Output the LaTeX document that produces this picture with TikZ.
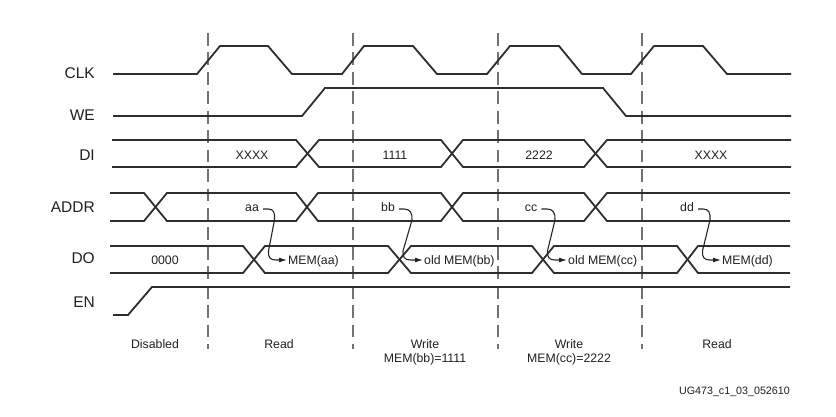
\documentclass[tikz,border=0pt]{standalone}
\usepackage{fontspec}
\setmainfont{Liberation Sans}
\usetikzlibrary{arrows.meta,calc}
\begin{document}
\begin{tikzpicture}[x=1pt,y=-1pt,
  sig/.style={line width=1.8pt, draw=black!82, line join=miter},
  gridline/.style={line width=1.7pt, draw=black!55, dash pattern=on 12.8pt off 6.64pt},
  lbl/.style={anchor=east, font=\fontsize{15.5}{18}\selectfont, text=black!88, inner sep=0pt, text height=11.1pt, text depth=0pt},
  val/.style={font=\fontsize{12.3}{14}\selectfont, text=black!88, inner sep=0pt, text height=8.8pt, text depth=0pt},
  capt/.style={anchor=north, font=\fontsize{12.3}{14}\selectfont, text=black!88, align=center, inner sep=0pt},
  ptr/.style={line width=1.1pt, draw=black!85, -{Latex[length=8pt,width=5pt]}, shorten >=1pt},
]
\useasboundingbox (0,0) rectangle (836,417);

% phase separators
\foreach \x in {208,353,498,642}
  \draw[gridline] (\x,33) -- (\x,349);

% signal names
\node[lbl] (lclk) at (95,73) {CLK};
\node[lbl] (lwe) at (95,115) {WE};
\node[lbl] (ldi) at (95,155) {DI};
\node[lbl] (laddr) at (95,207) {ADDR};
\node[lbl] (ldo) at (95,258) {DO};
\node[lbl] (len) at (95,302) {EN};

% CLK
\draw[sig] (113,74) -- (197,74) -- (220,46) -- (268,46) -- (292,74) -- (342,74) -- (364,46)
  -- (413,46) -- (437,74) -- (487,74) -- (510,46) -- (559,46) -- (582,74) -- (631,74)
  -- (654,46) -- (703,46) -- (727,74) -- (791,74);

% WE
\draw[sig] (113,116) -- (302,116) -- (325,88) -- (603,88) -- (626,116) -- (791,116);

% DI bus
\draw[sig] (112,140) -- (296,140) -- (319,167) -- (441,167) -- (463,140) -- (584,140) -- (607,167) -- (791,167);
\draw[sig] (112,167) -- (296,167) -- (319,140) -- (441,140) -- (463,167) -- (584,167) -- (607,140) -- (791,140);

% ADDR bus
\draw[sig] (110,193) -- (144,193) -- (167,221) -- (296,221) -- (318,193) -- (441,193) -- (463,221) -- (584,221) -- (607,193) -- (790,193);
\draw[sig] (110,221) -- (144,221) -- (167,193) -- (296,193) -- (318,221) -- (441,221) -- (463,193) -- (584,193) -- (607,221) -- (790,221);

% DO bus
\draw[sig] (110,246) -- (243,246) -- (265,273) -- (388,273) -- (411,246) -- (532,246) -- (554,273) -- (677,273) -- (698,246) -- (790,246);
\draw[sig] (110,273) -- (243,273) -- (265,246) -- (388,246) -- (411,273) -- (532,273) -- (554,246) -- (677,246) -- (698,273) -- (790,273);

% EN
\draw[sig] (113,315) -- (128,315) -- (152,287) -- (790,287);

% DI values
\node[val] (di1) at (252,155) {XXXX};
\node[val] (di2) at (395,155) {1111};
\node[val] (di3) at (539,155) {2222};
\node[val] (di4) at (711,155) {XXXX};

% ADDR values
\node[val] (aa) at (252,207) {aa};
\node[val] (bb) at (388,207) {bb};
\node[val] (cc) at (531,207) {cc};
\node[val] (dd) at (687,207) {dd};

% DO values
\node[val] (do0) at (165,260) {0000};
\node[val, anchor=west] (memaa) at (288,260) {MEM(aa)};
\node[val, anchor=west] (membb) at (424,260) {old MEM(bb)};
\node[val, anchor=west] (memcc) at (568,260) {old MEM(cc)};
\node[val, anchor=west] (memdd) at (722,260) {MEM(dd)};

% address -> data pointers
\draw[ptr] ($(aa.east)+(4,2)$) -- (268,209) .. controls (274,209) and (275,213) .. (274.5,220)
  -- (268.5,251) .. controls (268,257) and (270,260) .. (276,260) -- (memaa.west);
\draw[ptr] ($(bb.east)+(4,2)$) -- (404,209) .. controls (410,209) and (412.5,213) .. (412,220)
  -- (403,251) .. controls (402.5,257) and (404.5,260) .. (410.5,260) -- (membb.west);
\draw[ptr] ($(cc.east)+(4,2)$) -- (547,209) .. controls (553,209) and (555.5,213) .. (555,220)
  -- (547.5,251) .. controls (547,257) and (549,260) .. (555,260) -- (memcc.west);
\draw[ptr] ($(dd.east)+(4,2)$) -- (703,209) .. controls (709,209) and (710.5,213) .. (710,220)
  -- (702.5,251) .. controls (702,257) and (704,260) .. (710,260) -- (memdd.west);

% phase captions
\node[capt] (c1) at (155,339.6) {Disabled};
\node[capt] (c2) at (279,339.6) {Read};
\node[capt] (c3) at (425,339.6) {Write\\MEM(bb)=1111};
\node[capt] (c4) at (569,339.6) {Write\\MEM(cc)=2222};
\node[capt] (c5) at (717,339.6) {Read};

% figure id
\node[anchor=east, font=\fontsize{10.7}{12}\selectfont, text=black!88, inner sep=0pt, text height=7.7pt, text depth=0pt] (fid) at (790,391) {UG473\_c1\_03\_052610};
\end{tikzpicture}
\end{document}
